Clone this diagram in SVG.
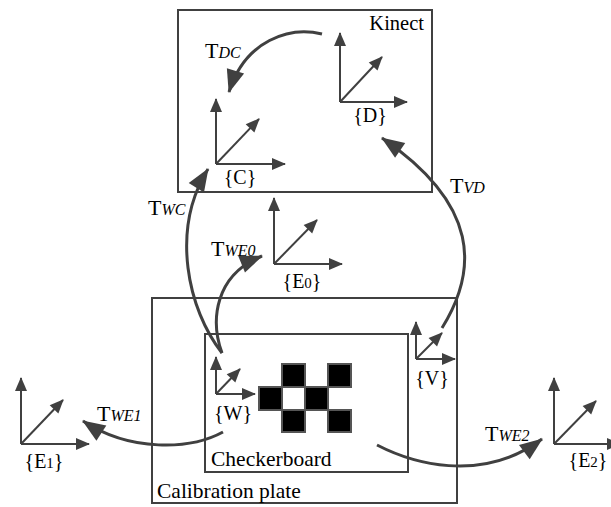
<svg xmlns="http://www.w3.org/2000/svg" width="611" height="507" viewBox="0 0 611 507">
<style>
.box{fill:none;stroke:#404040;stroke-width:2}
.ax{fill:none;stroke:#404040;stroke-width:2;marker-end:url(#ah)}
.tr{fill:none;stroke:#404040;stroke-width:3;marker-end:url(#big)}
.sq{fill:#000;stroke:#555;stroke-width:2}
.wq{fill:#fff;stroke:#555;stroke-width:2}
.t{font-size:22px}
.s{font-size:16px;font-style:italic}
.d{font-size:15px}
.big{font-size:21.5px}
</style>
<defs>
<marker id="ah" markerUnits="userSpaceOnUse" markerWidth="14" markerHeight="12" refX="13" refY="6" orient="auto" overflow="visible">
<path d="M0,0 L14,6 L0,12 z" fill="#404040"/>
</marker>
<marker id="big" markerUnits="userSpaceOnUse" markerWidth="24" markerHeight="18" refX="22" refY="9" orient="auto" overflow="visible">
<path d="M0,0 L23,9 L0,18 z" fill="#404040"/>
</marker>
</defs>
<g font-family="'Liberation Serif','Times New Roman','DejaVu Serif',serif" font-size="20" fill="#000">

<g id="kinect">
<rect class="box" x="178" y="10" width="254" height="182"/>
<text x="424" y="30" text-anchor="end" font-size="20.5">Kinect</text>
</g>

<g id="calibration-plate">
<rect class="box" x="152" y="298" width="305" height="205"/>
<text class="big" x="157" y="498">Calibration plate</text>
</g>

<g id="checkerboard">
<rect class="box" x="205" y="334" width="203" height="138"/>
<text class="big" x="211" y="466">Checkerboard</text>
<rect class="sq" x="282" y="364" width="23" height="23"/>
<rect class="sq" x="328" y="364" width="23" height="23"/>
<rect class="sq" x="259" y="387" width="23" height="23"/>
<rect class="wq" x="282" y="387" width="23" height="23"/>
<rect class="sq" x="305" y="387" width="23" height="23"/>
<rect class="sq" x="282" y="410" width="23" height="22"/>
<rect class="sq" x="328" y="410" width="23" height="22"/>
</g>

<g id="frame-D">
<path class="ax" d="M340,102 L340,33"/>
<path class="ax" d="M340,102 L407,102"/>
<path class="ax" d="M340,102 L382,57"/>
<text x="370" y="122" text-anchor="middle">{D}</text>
</g>

<g id="frame-C">
<path class="ax" d="M216,164 L216,99"/>
<path class="ax" d="M216,164 L285,164"/>
<path class="ax" d="M216,164 L259,119"/>
<text x="240" y="184" text-anchor="middle">{C}</text>
</g>

<g id="frame-E0">
<path class="ax" d="M274,264 L274,198"/>
<path class="ax" d="M274,264 L342,264"/>
<path class="ax" d="M274,264 L317,220"/>
<text x="302" y="288" text-anchor="middle">{E<tspan class="d">0</tspan>}</text>
</g>

<g id="frame-E1">
<path class="ax" d="M21,444 L21,378"/>
<path class="ax" d="M21,444 L89,444"/>
<path class="ax" d="M21,444 L63,400"/>
<text x="44" y="468" text-anchor="middle">{E<tspan class="d">1</tspan>}</text>
</g>

<g id="frame-E2">
<path class="ax" d="M554,444 L554,378"/>
<path class="ax" d="M554,444 L620,444"/>
<path class="ax" d="M554,444 L596,401"/>
<text x="588" y="467" text-anchor="middle">{E<tspan class="d">2</tspan>}</text>
</g>

<g id="frame-W">
<path class="ax" d="M216,394 L216,357"/>
<path class="ax" d="M216,394 L255,394"/>
<path class="ax" d="M216,394 L240,369"/>
<text x="233" y="420" text-anchor="middle">{W}</text>
</g>

<g id="frame-V">
<path class="ax" d="M416,359 L416,322"/>
<path class="ax" d="M416,359 L455,359"/>
<path class="ax" d="M416,359 L442,333"/>
<text x="432" y="385" text-anchor="middle">{V}</text>
</g>

<g id="connectors">
<path class="tr" d="M322,34 C290,26 245,40 229,92"/>
<path class="tr" d="M442,328 C478,270 480,205 382,138"/>
<path class="tr" d="M222,353 C188,310 170,230 208,169"/>
<path class="tr" d="M222,353 C210,320 215,275 262,256"/>
<path class="tr" d="M223,432 C190,450 130,452 83,421"/>
<path class="tr" d="M377,445 C410,462 480,485 542,439"/>
</g>

<g id="labels">
<text class="t" x="205" y="58">T<tspan class="s">DC</tspan></text>
<text class="t" x="148" y="215">T<tspan class="s">WC</tspan></text>
<text class="t" x="211" y="256">T<tspan class="s">WE0</tspan></text>
<text class="t" x="450" y="193">T<tspan class="s">VD</tspan></text>
<text class="t" x="97" y="421">T<tspan class="s">WE1</tspan></text>
<text class="t" x="485" y="441">T<tspan class="s">WE2</tspan></text>
</g>
</g>
</svg>
